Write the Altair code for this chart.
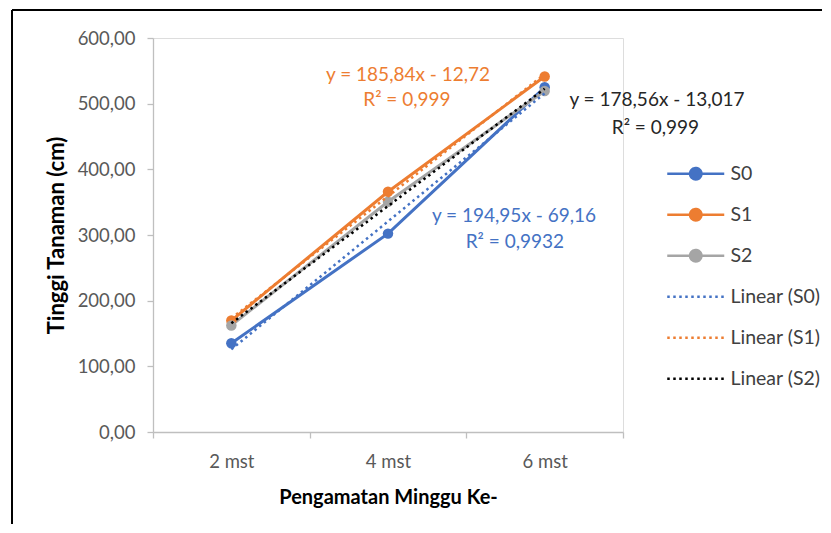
import json
import altair as alt
import pandas as pd

# ---------------- data ----------------
categories = ["2 mst", "4 mst", "6 mst"]
x_index = [1, 2, 3]
series_names = ["S0", "S1", "S2"]
s0 = [135.1, 302.1, 525.0]
s1 = [169.7, 365.8, 541.4]
s2 = [162.3, 350.6, 519.4]
series_colors = ["#4472C4", "#ED7D31", "#A5A5A5"]
trend_names = ["Linear (S0)", "Linear (S1)", "Linear (S2)"]
trend_colors = ["#4472C4", "#ED7D31", "#000000"]

eq_text = ["y = 185,84x - 12,72", "R² = 0,999",
           "y = 194,95x - 69,16", "R² = 0,9932",
           "y = 178,56x - 13,017", "R² = 0,999"]
eq_x = [2.128, 2.121, 2.804, 2.81, 3.717, 3.707]
eq_y = [544.0, 505.0, 328.5, 289.6, 505.0, 462.5]
eq_color = ["#ED7D31", "#ED7D31", "#4472C4", "#4472C4", "#262626", "#262626"]

y_ticks = [0, 100, 200, 300, 400, 500, 600]

rows = []
for name, vals in zip(series_names, [s0, s1, s2]):
    for xi, cat, v in zip(x_index, categories, vals):
        rows.append({"series": name, "x": xi, "cat": cat, "y": v})
df = pd.DataFrame(rows)
df_eq = pd.DataFrame({"text": eq_text, "x": eq_x, "y": eq_y, "color": eq_color})

# ---------------- scales / axes ----------------
legend_domain = series_names + trend_names
color_scale = alt.Scale(domain=legend_domain, range=series_colors + trend_colors)


def rings(radii):
    out = ""
    for r in radii:
        out += f" M{-r},0 A{r},{r},0,1,0,{r},0 A{r},{r},0,1,0,{-r},0"
    return out


# legend glyphs (symbol size 130 -> 1 path unit = 5.7 px)
marker_path = "M-5,0 L5,0" + rings([1.0, 0.7, 0.4, 0.15])
line_path = "M0,-1 M0,1 M-5,0 L5,0"
shape_range = [marker_path] * 3 + [line_path] * 3
dash_range = [[1, 0]] * 3 + [[2.5, 3.5]] * 3

axis_common = dict(
    grid=False,
    domainColor="#BFBFBF", tickColor="#BFBFBF",
    domainWidth=1.3, tickWidth=1.3, tickSize=6,
    labelFont="Lato", labelFontSize=18.5, labelColor="#595959",
    titleFont="Lato", titleFontWeight="bold", titleColor="#000000",
)

X = alt.X(
    "x:Q",
    scale=alt.Scale(domain=[0.5, 3.5], nice=False, zero=False),
    axis=alt.Axis(
        values=[0.5, 1, 1.5, 2, 2.5, 3, 3.5],
        labelExpr="datum.value % 1 == 0 ? " + json.dumps(categories) + "[datum.value - 1] : ''",
        tickOpacity={"condition": {"test": "datum.value % 1 == 0", "value": 0}, "value": 1},
        labelOverlap=False,
        labelPadding=14,
        titlePadding=17,
        titleFontSize=20,
        title="Pengamatan Minggu Ke-",
        **axis_common,
    ),
)
Y = alt.Y(
    "y:Q",
    scale=alt.Scale(domain=[0, 600], nice=False),
    axis=alt.Axis(
        values=y_ticks,
        labelExpr="replace(format(datum.value, '.2f'), '.', ',')",
        labelPadding=12,
        titlePadding=9,
        titleFontSize=22,
        title="Tinggi Tanaman (cm)",
        **axis_common,
    ),
)

base = alt.Chart(df)

lines = base.mark_line(strokeWidth=3).encode(
    x=X, y=Y, color=alt.Color("series:N", scale=color_scale, legend=None)
)
points = base.mark_point(filled=True, size=110, opacity=1, shape="circle").encode(
    x=X, y=Y, color=alt.Color("series:N", scale=color_scale, legend=None)
)
trends = (
    base.transform_regression("x", "y", groupby=["series"], extent=[1, 3])
    .transform_calculate(entry="'Linear (' + datum.series + ')'")
    .mark_line(strokeWidth=2.5, strokeDash=[2.5, 3.5])
    .encode(x=X, y=Y, color=alt.Color("entry:N", scale=color_scale, legend=None))
)


def make_legend():
    return alt.Legend(
        title=None, orient="none", legendX=533, legendY=126,
        symbolSize=130, symbolStrokeWidth=2.5,
        rowPadding=19, labelFont="Lato", labelFontSize=19.5,
        labelColor="#404040", labelOffset=25, padding=0,
    )


legend_layer = (
    base.transform_filter("false")
    .transform_calculate(entry="datum.series")
    .mark_point(filled=False, strokeWidth=2.5, opacity=1)
    .encode(
        x=X, y=Y,
        color=alt.Color("entry:N", scale=color_scale, legend=make_legend()),
        shape=alt.Shape("entry:N", scale=alt.Scale(domain=legend_domain, range=shape_range),
                        legend=make_legend()),
        strokeDash=alt.StrokeDash("entry:N", scale=alt.Scale(domain=legend_domain, range=dash_range),
                                  legend=make_legend()),
    )
)

labels = alt.Chart(df_eq).mark_text(font="Lato", fontSize=19, baseline="middle", align="center").encode(
    x=X, y=Y, text="text:N", fill=alt.Fill("color:N", scale=None)
)

frame_df = pd.DataFrame({"k": [0]})
frame_left = alt.Chart(frame_df).mark_rule(color="#000000", strokeWidth=2).encode(
    x=alt.value(-141), y=alt.value(-28), y2=alt.value(486)
)
frame_top = alt.Chart(frame_df).mark_rule(color="#000000", strokeWidth=2).encode(
    x=alt.value(-141), x2=alt.value(669), y=alt.value(-28)
)

chart = (
    alt.layer(frame_left, frame_top, lines, points, trends, labels, legend_layer)
    .resolve_legend(color="independent", shape="independent", strokeDash="independent")
    .properties(width=470, height=394, padding={"left": 3, "top": 1, "right": 0, "bottom": 0})
    .configure_view(stroke=None)
    .configure(background="#ffffff")
)

chart.save("out.html", embed_options={"renderer": "svg", "actions": False})
